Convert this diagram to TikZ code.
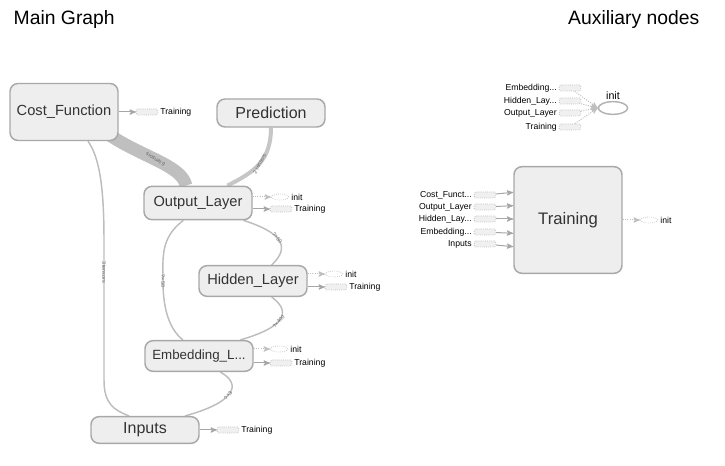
\documentclass[tikz,border=0pt]{standalone}
\usepackage{fontspec}
\setmainfont{Liberation Sans}
\usepackage{tikz}
\usetikzlibrary{shapes.geometric}
\usetikzlibrary{arrows}
\usetikzlibrary{backgrounds}
\definecolor{boxfill}{HTML}{EEEEEE}
\definecolor{boxline}{HTML}{A8A8A8}
\definecolor{edgegray}{HTML}{BDBDBD}
\definecolor{txtgray}{HTML}{333333}
\tikzset{
	main node/.style={rectangle,rounded corners=6pt,draw=boxline,line width=1.1pt,fill=boxfill,text=txtgray,
		font=\fontsize{11}{13}\selectfont,minimum width=81pt,minimum height=23pt,inner sep=0pt},
	port box/.style={rectangle,rounded corners=1pt,draw=gray!55,densely dotted,line width=0.6pt,fill=gray!12,
		minimum width=16pt,minimum height=4.5pt,inner sep=0pt},
	port ell/.style={ellipse,draw=gray!45,densely dotted,line width=0.6pt,minimum width=13pt,minimum height=4.5pt,inner sep=0pt},
	tag/.style={font=\fontsize{6.5}{7}\selectfont,text=black,inner sep=1.5pt},
	edge/.style={draw=edgegray,line width=1.1pt},
	elabel/.style={font=\fontsize{4}{4.5}\selectfont,text=gray!80!black,inner sep=0pt},
	dep/.style={->,draw=gray!70,line width=0.75pt},
	ctrl/.style={->,draw=gray!50,densely dotted,line width=0.75pt}
}

\begin{document}
\begin{tikzpicture}[x=0.75pt,y=-0.75pt,>=stealth']
	\useasboundingbox (0,0) rectangle (725,466);
	\node [anchor=west,font=\fontsize{14.5}{17}\selectfont] (maintitle) at (9,20) {Main Graph};
	\node [anchor=east,font=\fontsize{14.5}{17}\selectfont] (auxtitle) at (704,20) {Auxiliary nodes};

	% main graph
	\node [main node,minimum height=42.75pt] (cost) at (64,112) {Cost\_Function};
	\node [main node,minimum height=21pt,font=\fontsize{12}{14}\selectfont] (pred) at (271,113) {Prediction};
	\node [main node,minimum height=25pt] (outl) at (198,203) {Output\_Layer};
	\node [main node] (hidl) at (253,281) {Hidden\_Layer};
	\node [main node,font=\fontsize{10}{12}\selectfont] (embl) at (199,356) {Embedding\_L...};
	\node [main node,minimum height=20pt,font=\fontsize{12}{14}\selectfont] (inp) at (145,430) {Inputs};

	\node [port box,label={[tag]right:Training}] (costtr) at (147,112) {};
	\node [port ell,label={[tag]right:init}] (outlin) at (280,197) {};
	\node [port box,label={[tag]right:Training}] (outltr) at (281,209) {};
	\node [port ell,label={[tag]right:init}] (hidlin) at (334,274) {};
	\node [port box,label={[tag]right:Training}] (hidltr) at (336,287) {};
	\node [port ell,label={[tag]right:init}] (emblin) at (279,349) {};
	\node [port box,label={[tag]right:Training}] (embltr) at (281,363) {};
	\node [port box,label={[tag]right:Training}] (inptr) at (228,430) {};

	\draw [dep] (cost.east |- costtr) -- (costtr);
	\draw [ctrl] (outl.east |- outlin) -- (outlin);
	\draw [dep] (outl.east |- outltr) -- (outltr);
	\draw [ctrl] (hidl.east |- hidlin) -- (hidlin);
	\draw [dep] (hidl.east |- hidltr) -- (hidltr);
	\draw [ctrl] (embl.east |- emblin) -- (emblin);
	\draw [dep] (embl.east |- embltr) -- (embltr);
	\draw [dep] (inp.east |- inptr) -- (inptr);

	\begin{pgfonlayer}{background}
	\draw [edge,draw=gray!50,line width=9.5pt] ([xshift=-6pt,yshift=4pt]cost.south east) .. controls (145,158) and (182,166) .. ([xshift=-9pt]outl.north)
		node [elabel,pos=0.45,rotate=147] (costoutlab) {6 tensors};
	\draw [edge,draw=gray!45,line width=3pt] (pred.south) .. controls (271,160) and (255,172) .. ([xshift=22pt]outl.north)
		node [elabel,pos=0.5,rotate=62] (predoutlab) {2 tensors};
	\draw [edge] ([xshift=18pt]cost.south) .. controls (100,158) and (104,190) .. (104,240) -- (104,380)
		.. controls (104,404) and (114,410) .. ([xshift=-12pt]inp.north);
	\node [elabel,rotate=-90] (costinplab) at (104,272) {3 tensors};
	\draw [edge] ([xshift=-11pt]outl.south) .. controls (160,238) and (163,258) .. (163,282)
		.. controls (163,310) and (170,330) .. ([xshift=-12pt]embl.north);
	\node [elabel,rotate=-90] (outembllab) at (163,281) {?×50};
	\draw [edge] ([xshift=-7pt]outl.south east) .. controls (280,232) and (292,246) .. ([xshift=14pt]hidl.north)
		node [elabel,pos=0.45,sloped] (outhidlab) {?×50};
	\draw [edge] ([xshift=14pt]hidl.south) .. controls (292,312) and (285,327) .. ([xshift=31pt]embl.north)
		node [elabel,pos=0.55,sloped] (hidembllab) {?×400};
	\draw [edge] ([xshift=16pt]embl.south) .. controls (242,384) and (236,402) .. ([xshift=30pt]inp.north)
		node [elabel,pos=0.55,sloped] (emblinplab) {?×3};
	\end{pgfonlayer}

	% auxiliary nodes
	\node [ellipse,draw=gray!60,line width=1.1pt,minimum width=22pt,minimum height=9.5pt,inner sep=0pt,
		label={[tag,font=\fontsize{8}{9}\selectfont,yshift=-1pt]above:init}] (auxinit) at (613,108) {};
	\node [port box,label={[tag]left:Embedding...}] (auxemb) at (570,88) {};
	\node [port box,label={[tag]left:Hidden\_Lay...}] (auxhid) at (570,101) {};
	\node [port box,label={[tag]left:Output\_Layer}] (auxout) at (570,113) {};
	\node [port box,label={[tag]left:Training}] (auxtr) at (570,127) {};
	\draw [ctrl] (auxemb) -- (auxinit.west);
	\draw [ctrl] (auxhid) -- (auxinit.west);
	\draw [ctrl] (auxout) -- (auxinit.west);
	\draw [ctrl] (auxtr) -- (auxinit.west);

	\node [main node,minimum height=80pt,font=\fontsize{12.5}{14}\selectfont] (train) at (568,220) {Training};
	\node [port box,label={[tag]left:Cost\_Funct...}] (trcost) at (485,195) {};
	\node [port box,label={[tag]left:Output\_Layer}] (trout) at (485,207) {};
	\node [port box,label={[tag]left:Hidden\_Lay...}] (trhid) at (485,219) {};
	\node [port box,label={[tag]left:Embedding...}] (tremb) at (485,232) {};
	\node [port box,label={[tag]left:Inputs}] (trinp) at (485,244) {};
	\draw [dep] (trcost) -- ([yshift=2pt]train.west |- trcost);
	\draw [dep] (trout) -- ([yshift=1pt]train.west |- trout);
	\draw [dep] (trhid) -- (train.west |- trhid);
	\draw [dep] (tremb) -- ([yshift=-1pt]train.west |- tremb);
	\draw [dep] (trinp) -- ([yshift=-2pt]train.west |- trinp);
	\node [port ell,label={[tag]right:init}] (trinit) at (649,220) {};
	\draw [ctrl] (train.east |- trinit) -- (trinit);
\end{tikzpicture}
\end{document}
